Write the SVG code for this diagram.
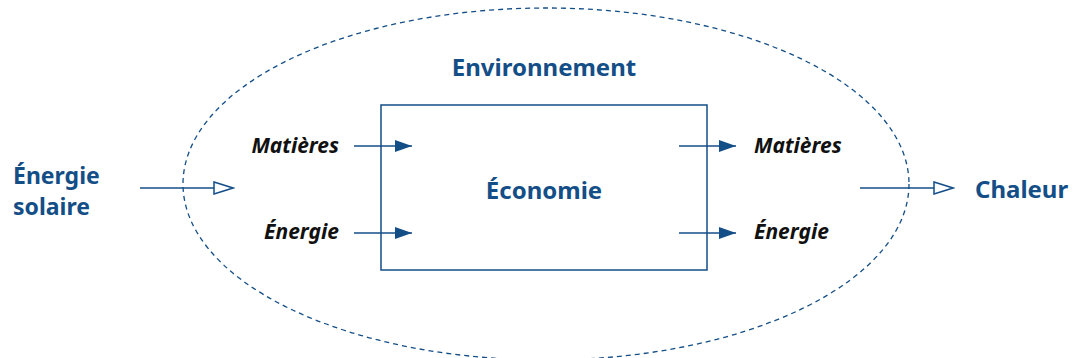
<svg xmlns="http://www.w3.org/2000/svg" width="1072" height="358" viewBox="0 0 1072 358">
<style>
.b{font-family:"Noto Sans","Open Sans","Liberation Sans",sans-serif;font-weight:bold;fill:#134e87;font-size:24px}
.i{font-family:"Noto Sans","Open Sans","Liberation Sans",sans-serif;font-weight:bold;font-style:italic;fill:#111;font-size:21px}
.ln{stroke:#134e87;stroke-width:1.5;fill:none}
</style>
<defs>
<marker id="fa" markerWidth="18" markerHeight="12" refX="17" refY="6" orient="auto" markerUnits="userSpaceOnUse">
<path d="M0,0 L17,6 L0,12 Z" fill="#134e87"/>
</marker>
<marker id="oa" markerWidth="22" markerHeight="14" refX="20" refY="7" orient="auto" markerUnits="userSpaceOnUse">
<path d="M1,1 L20,7 L1,13 Z" fill="#fff" stroke="#134e87" stroke-width="1.5"/>
</marker>
</defs>
<g id="environnement">
<ellipse cx="546" cy="184" rx="363" ry="176" fill="none" stroke="#134e87" stroke-width="1.3" stroke-dasharray="5,4"/>
<text class="b" x="544" y="76" text-anchor="middle">Environnement</text>
</g>
<g id="economie">
<rect x="381" y="105" width="326" height="165" fill="none" stroke="#134e87" stroke-width="1.5"/>
<text class="b" x="544" y="199" text-anchor="middle">Économie</text>
</g>
<g id="energie-solaire">
<text class="b" x="13" y="184" style="font-size:23px">Énergie</text>
<text class="b" x="13" y="215" style="font-size:23px">solaire</text>
</g>
<g id="chaleur">
<text class="b" x="975" y="198">Chaleur</text>
</g>
<g id="labels">
<text class="i" x="339" y="153" text-anchor="end">Matières</text>
<text class="i" x="339" y="239" text-anchor="end">Énergie</text>
<text class="i" x="754" y="153">Matières</text>
<text class="i" x="754" y="239">Énergie</text>
</g>
<g id="connectors">
<line class="ln" x1="354" y1="146" x2="412" y2="146" marker-end="url(#fa)"/>
<line class="ln" x1="354" y1="233" x2="412" y2="233" marker-end="url(#fa)"/>
<line class="ln" x1="679" y1="146" x2="736" y2="146" marker-end="url(#fa)"/>
<line class="ln" x1="679" y1="233" x2="736" y2="233" marker-end="url(#fa)"/>
<line class="ln" x1="140" y1="188" x2="233" y2="188" marker-end="url(#oa)"/>
<line class="ln" x1="860" y1="188" x2="953" y2="188" marker-end="url(#oa)"/>
</g>
</svg>
